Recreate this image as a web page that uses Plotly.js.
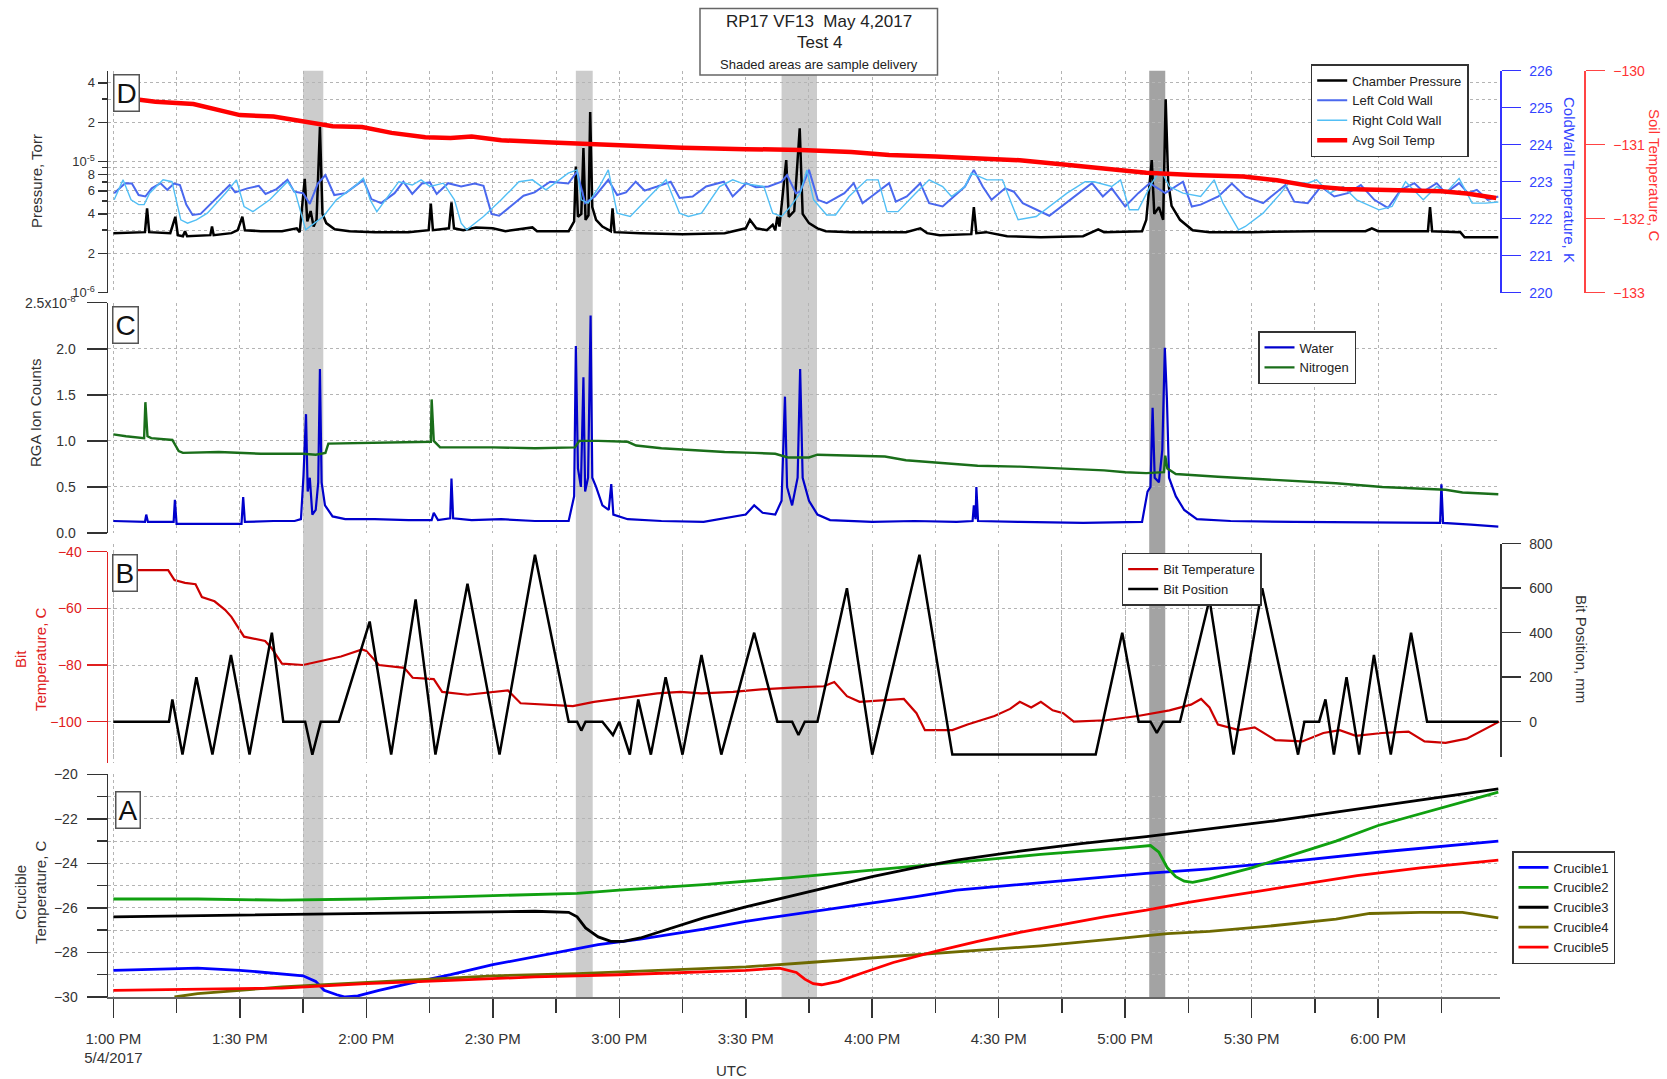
<!DOCTYPE html>
<html><head><meta charset="utf-8">
<script src="https://cdn.plot.ly/plotly-3.0.1.min.js"></script>
<style>html,body{margin:0;padding:0;background:#fff}#chart{width:1667px;height:1079px}</style>
</head><body><div id="chart"></div>
<script>
// ---- times are minutes after 1:00 PM, 5/4/2017 ----
// Panel D: chamber pressure (Torr)
const cpT = [0,7.5,8.0,8.5,13.5,14.7,15.3,16.5,17.0,17.5,23.0,23.4,23.8,28,29.5,30.6,31.2,35,40,43.5,44.2,45.4,46.0,46.8,47.5,48.2,49.0,49.6,50.5,52.5,56,62,70,74.8,75.3,75.8,79.6,80.2,80.8,83,86,90,93,99.4,100.5,108,109.3,109.7,110.2,111.0,111.5,112.0,112.7,113.1,113.6,114.5,116,118.0,118.4,118.9,125,135,145,150,151,152.5,155,156.4,157,157.5,158,159.6,160.2,161.5,162.8,163.5,165,167,169,175,188,191.4,193,196,203.5,204.1,204.7,207,212,220,230,233.6,235,244,245,246.3,246.9,248,249.0,249.6,250.2,251,253,256,260,270,285,297,298.5,300,311.8,312.3,312.8,319.5,320.5,328.5];
const cpV = [2.85e-6,2.9e-6,4.4e-6,2.9e-6,2.85e-6,3.8e-6,2.75e-6,2.7e-6,2.95e-6,2.7e-6,2.75e-6,3.2e-6,2.75e-6,2.85e-6,3.0e-6,3.8e-6,3.0e-6,2.95e-6,2.95e-6,3.1e-6,2.9e-6,7.4e-6,3.5e-6,4.2e-6,3.2e-6,3.6e-6,1.85e-5,4.0e-6,3.4e-6,3.05e-6,2.95e-6,2.9e-6,2.9e-6,3.0e-6,4.8e-6,3.0e-6,3.1e-6,4.9e-6,3.1e-6,3.0e-6,3.15e-6,3.1e-6,2.95e-6,3.15e-6,2.95e-6,2.95e-6,3.5e-6,9.2e-6,3.8e-6,4.0e-6,1.27e-5,3.6e-6,3.9e-6,2.4e-5,4.5e-6,3.6e-6,3.2e-6,2.95e-6,4.4e-6,2.9e-6,2.85e-6,2.8e-6,2.85e-6,3.1e-6,3.6e-6,3.1e-6,3.0e-6,3.3e-6,3.0e-6,3.8e-6,3.2e-6,1.03e-5,3.8e-6,4.2e-6,1.8e-5,4.0e-6,3.4e-6,3.1e-6,2.95e-6,2.9e-6,2.9e-6,3.1e-6,2.85e-6,2.75e-6,2.8e-6,4.5e-6,2.85e-6,2.9e-6,2.7e-6,2.65e-6,2.7e-6,3.05e-6,2.9e-6,2.95e-6,3.6e-6,1.03e-5,4.0e-6,4.5e-6,3.6e-6,3.0e-5,7.0e-6,4.6e-6,3.6e-6,3.0e-6,2.9e-6,2.9e-6,2.95e-6,2.95e-6,3.1e-6,2.95e-6,2.95e-6,4.5e-6,2.95e-6,2.9e-6,2.65e-6,2.65e-6];
// Left / right cold wall (K)
const lcwT = [0.2,2.8,4.4,6.0,7.6,9.1,11.2,12.8,14.4,15.8,17.3,18.8,20.7,27.6,28.9,31.8,34.5,36.1,38.7,41.3,42.9,45.0,46.6,48.5,50.3,52.4,55.1,59.3,61.2,63.5,66.7,68.8,70.9,73.2,75.1,76.7,79.4,82.5,85.7,87.8,89.7,91.5,97.3,99.9,103.6,107.9,110.0,111.9,114.2,117.4,119.5,121.6,123.9,126.0,129.0,132.2,134.3,137.4,140.6,144.8,146.9,150.1,152.4,155.4,158.5,159.8,161.9,162.9,165.0,167.1,169.2,173.4,175.6,177.7,179.8,184.0,185.6,188.2,191.4,193.5,196.7,202.0,204.1,206.2,208.3,211.5,213.6,215.7,222.0,232.1,234.7,236.8,240.0,243.1,245.8,249.5,253.7,255.8,257.9,262.1,265.3,268.5,272.7,278.0,280.1,283.3,286.4,289.6,292.8,295.9,299.1,302.3,305.4,308.6,310.7,313.9,316.0,319.2,321.3,323.4,326.0,328.5];
const lcwV = [222.69,222.96,222.95,222.64,222.60,222.82,222.96,222.78,222.95,222.91,222.38,222.10,222.13,222.91,222.71,222.82,222.89,222.67,222.80,223.05,222.73,222.69,222.40,222.95,223.18,222.64,222.69,223.05,222.53,222.42,222.69,223.00,222.67,222.95,222.98,222.67,222.96,222.87,222.95,222.89,222.13,222.08,222.62,222.71,223.00,222.95,223.27,222.42,222.60,223.05,222.64,222.71,223.00,222.76,222.87,223.00,222.56,222.60,222.87,223.00,222.60,222.96,222.85,222.87,223.00,223.18,222.69,222.73,223.32,222.51,222.42,222.69,222.96,222.42,222.60,222.96,222.46,222.60,222.96,222.42,222.33,222.87,223.32,222.87,222.51,222.82,222.73,222.42,222.08,222.96,222.60,222.82,222.33,222.69,222.96,222.69,223.00,222.33,222.38,222.60,222.95,222.60,222.42,222.91,222.46,222.42,222.87,222.60,222.69,222.91,222.51,222.29,222.78,222.96,222.73,222.96,222.69,222.96,222.69,222.78,222.51,222.60];
const rcwT = [0.2,2.3,4.2,6.0,7.3,8.6,11.8,13.9,16.0,17.6,19.7,22.3,26.6,29.2,31.0,33.1,37.1,41.3,43.2,45.6,47.7,49.8,52.9,57.2,59.3,60.9,62.5,65.6,67.7,70.9,73.0,75.1,78.3,80.9,82.5,83.8,87.8,92.0,96.2,99.4,102.6,107.9,110.0,111.0,112.6,115.3,117.4,119.5,122.6,127.9,131.1,134.3,136.4,139.5,143.8,146.9,149.0,154.3,156.4,158.5,160.6,162.9,164.5,166.1,169.2,171.3,174.5,178.7,181.4,183.5,186.1,190.3,193.5,196.7,198.8,202.0,203.5,207.2,210.9,213.0,214.6,218.9,222.0,226.2,230.5,232.6,236.8,238.9,241.0,243.1,246.3,248.4,250.5,253.7,257.9,261.1,263.2,266.9,268.5,272.7,276.9,279.0,283.3,285.4,288.5,291.7,294.9,300.2,303.3,306.5,310.7,313.9,316.0,319.2,322.3,325.5,328.5];
const rcwV = [222.51,223.05,222.51,222.38,222.38,222.69,223.05,223.00,221.97,221.88,221.97,222.15,222.69,223.05,222.33,222.19,222.51,223.00,222.69,221.70,221.88,222.06,222.51,222.87,223.09,222.51,222.19,222.69,223.00,222.91,223.05,222.87,222.96,222.51,221.88,221.70,222.06,222.51,223.00,223.05,222.78,223.23,223.32,222.51,222.42,222.87,223.32,222.15,222.06,222.69,223.05,222.15,222.06,222.15,222.87,223.05,222.96,222.87,222.15,222.06,222.33,222.69,223.32,222.51,222.10,222.10,222.60,223.05,223.05,222.19,222.19,222.69,223.05,222.87,222.60,222.87,223.23,223.05,223.05,222.42,221.97,222.06,222.33,222.69,223.00,223.00,222.87,223.05,222.24,222.24,222.96,223.32,222.87,222.69,222.60,223.05,222.42,221.70,221.79,222.15,222.69,223.00,222.96,223.05,222.69,222.87,222.51,222.24,222.33,223.00,222.51,222.87,222.69,223.09,222.42,222.42,222.45];
// Avg soil temperature (C)
const soilT = [0,10,19,24,30,38,45,52,59,66,74,80,85,92,104,112,122,135,150,163,175,184,195,205,215,226,236,245,256,268,276,284,292,300,308,315,321,328];
const soilV = [-130.35,-130.42,-130.45,-130.52,-130.6,-130.62,-130.68,-130.75,-130.76,-130.84,-130.9,-130.91,-130.89,-130.94,-130.97,-130.99,-131.01,-131.04,-131.06,-131.07,-131.1,-131.14,-131.16,-131.18,-131.21,-131.27,-131.33,-131.38,-131.41,-131.43,-131.48,-131.56,-131.6,-131.61,-131.62,-131.63,-131.66,-131.72];
// Panel C: RGA ion counts
const waterT = [0,7.5,7.8,8.2,14.3,14.6,15.0,20,25,30.4,30.8,31.2,38,43,44.5,45.1,45.7,46.1,46.6,47.2,48.0,48.6,49.0,49.4,50.2,52,55,62,70,75.5,76,77,79.9,80.2,80.6,85,92,100,108,109.3,109.7,110.2,110.9,111.5,111.9,112.6,113.2,113.6,114.5,116,117.5,118.1,118.6,122,130,140,150,152,154,157,158.5,159.3,159.8,161,162.3,162.9,163.5,165,167,170,180,190,200,203.8,204.1,204.5,204.7,205.1,215,230,244,245.3,246.0,246.5,247.0,248,248.8,249.4,249.9,250.4,252,254,257,265,280,300,314.7,315.0,315.4,322,328.5];
const waterV = [0.13e-8,0.12e-8,0.2e-8,0.12e-8,0.12e-8,0.36e-8,0.1e-8,0.1e-8,0.1e-8,0.1e-8,0.39e-8,0.12e-8,0.13e-8,0.13e-8,0.15e-8,0.62e-8,1.29e-8,0.45e-8,0.6e-8,0.2e-8,0.25e-8,0.55e-8,1.78e-8,0.55e-8,0.3e-8,0.18e-8,0.15e-8,0.15e-8,0.14e-8,0.14e-8,0.22e-8,0.14e-8,0.16e-8,0.59e-8,0.16e-8,0.14e-8,0.15e-8,0.13e-8,0.13e-8,0.4e-8,2.03e-8,0.7e-8,0.5e-8,1.69e-8,0.45e-8,0.6e-8,2.36e-8,0.6e-8,0.5e-8,0.3e-8,0.25e-8,0.53e-8,0.2e-8,0.15e-8,0.13e-8,0.12e-8,0.2e-8,0.3e-8,0.22e-8,0.2e-8,0.35e-8,1.48e-8,0.5e-8,0.3e-8,0.6e-8,1.78e-8,0.6e-8,0.35e-8,0.2e-8,0.14e-8,0.12e-8,0.13e-8,0.12e-8,0.13e-8,0.3e-8,0.15e-8,0.5e-8,0.13e-8,0.12e-8,0.11e-8,0.12e-8,0.45e-8,0.5e-8,1.36e-8,0.6e-8,0.55e-8,0.9e-8,2.01e-8,1.45e-8,0.6e-8,0.4e-8,0.25e-8,0.15e-8,0.13e-8,0.12e-8,0.11e-8,0.11e-8,0.53e-8,0.11e-8,0.09e-8,0.07e-8];
const nitroT = [0,3,7.3,7.6,8.1,9,14,14.7,15.5,16.5,25,35,45,48,50.3,51,60,70,75.3,75.5,76,77.5,90,100,109.5,110.5,115,122,124,130,137,145,152,157,160,165,167,175,183,188,196,205,215,225,235,240,245,249.2,249.5,250.0,252,262,275,290,301,312,316,320,328.5];
const nitroV = [1.07e-8,1.05e-8,1.03e-8,1.42e-8,1.05e-8,1.03e-8,1.01e-8,0.95e-8,0.89e-8,0.87e-8,0.88e-8,0.86e-8,0.86e-8,0.85e-8,0.87e-8,0.97e-8,0.98e-8,0.99e-8,0.99e-8,1.45e-8,1.0e-8,0.93e-8,0.93e-8,0.92e-8,0.93e-8,1.0e-8,1.0e-8,0.99e-8,0.95e-8,0.92e-8,0.9e-8,0.88e-8,0.87e-8,0.86e-8,0.82e-8,0.82e-8,0.85e-8,0.84e-8,0.83e-8,0.79e-8,0.76e-8,0.73e-8,0.72e-8,0.7e-8,0.68e-8,0.66e-8,0.65e-8,0.66e-8,0.84e-8,0.7e-8,0.64e-8,0.61e-8,0.58e-8,0.54e-8,0.5e-8,0.48e-8,0.47e-8,0.44e-8,0.42e-8];
// Panel B: bit temperature (C) and bit position (mm)
const btT = [0,13,14.5,17,19.5,21,24,26.5,28,31,36,37.5,40,45,54,59,60,63,69,71,76,78,84,93.6,96.6,104,109,114,122,129,134.5,139.5,147,154.7,161,168.5,171,174,177,182,187.5,190.5,192.5,199,202.6,209,212.7,215,217.7,220,222.8,225.3,227.8,235.4,243,250.5,255.6,258,260,262,267,270.7,273,275.6,282,287,290.9,294.7,300.9,307.2,311,316,321,325,328.7];
const btV = [-46.5,-46.5,-50,-51,-51.5,-56,-57.5,-60.5,-63,-70,-71.5,-74,-79.5,-80,-77,-74.5,-75,-80,-81,-84.5,-85,-89.5,-90.5,-89,-93.5,-94,-94.5,-93,-91.5,-90,-89.5,-90,-89.5,-88.5,-88,-87.5,-86,-91,-93,-92.5,-92,-97,-103,-103,-101,-98,-95.5,-93,-95,-93,-96,-97,-100,-99.5,-98,-96,-94,-92,-95,-101,-103,-102,-104,-106.5,-107,-104,-103,-105,-104,-103.5,-107,-107.5,-106,-103,-100];
const bpT = [0,13.2,14.0,16.4,19.7,23.5,27.9,32.3,37.6,40.3,45.5,47.2,49.2,53.5,60.8,65.9,71.7,76.4,84.0,91.6,100.0,108.0,110,111,112,116,118.5,120,122.5,124.5,127.5,131.0,135.0,139.5,144.2,152.0,157.5,161,162.5,164,167,174.0,180.0,191.2,199.0,233.0,239.3,243.2,246,247.5,249,253,260.0,265.7,272.5,281.0,282.5,286,287.5,289.5,292.5,295.5,299.0,303,307.8,311.6,328.5];
const bpV = [0,0,100,-148,200,-148,300,-148,400,0,0,-148,0,0,450,-148,550,-148,620,-148,750,0,0,-40,0,0,-60,0,-148,100,-148,200,-148,300,-148,400,0,0,-60,0,0,600,-148,750,-148,-148,400,0,0,-50,0,0,550,-148,600,-148,0,0,100,-148,200,-148,300,-148,400,0,0];
// Panel A: crucible temperatures (C)
const c1T = [0,10,20,30,40,45,48,50,53,55,58,63,70,80,90,100,110,115,125,140,150,165,180,190,200,215,230,245,260,280,300,328.5];
const c1V = [-28.8,-28.75,-28.7,-28.8,-28.95,-29.05,-29.3,-29.7,-29.9,-30.0,-29.95,-29.7,-29.4,-29.0,-28.55,-28.2,-27.85,-27.65,-27.4,-26.95,-26.6,-26.2,-25.8,-25.5,-25.2,-24.95,-24.7,-24.45,-24.25,-23.9,-23.5,-23.0];
const c2T = [0,20,40,60,80,100,110,120,140,160,180,200,220,240,246,248,250,252,254,256,260,270,280,290,300,315,328.5];
const c2V = [-25.6,-25.6,-25.65,-25.6,-25.5,-25.4,-25.35,-25.2,-24.95,-24.65,-24.3,-23.95,-23.6,-23.3,-23.2,-23.5,-24.2,-24.6,-24.8,-24.85,-24.7,-24.2,-23.6,-23.0,-22.3,-21.5,-20.8];
const c3T = [0,20,40,60,80,100,108,110,112,115,118,121,125,130,140,150,160,170,180,190,200,215,230,245,260,275,290,305,328.5];
const c3V = [-26.4,-26.35,-26.3,-26.25,-26.2,-26.15,-26.2,-26.4,-26.9,-27.3,-27.5,-27.5,-27.35,-27.05,-26.45,-25.95,-25.5,-25.05,-24.6,-24.2,-23.85,-23.45,-23.1,-22.8,-22.45,-22.1,-21.7,-21.3,-20.65];
const c4T = [14.5,20,30,40,50,60,75,90,110,130,150,165,180,200,220,240,250,260,275,290,298,310,320,328.5];
const c4V = [-30.0,-29.85,-29.7,-29.55,-29.45,-29.35,-29.2,-29.05,-28.95,-28.8,-28.65,-28.45,-28.25,-28.0,-27.7,-27.35,-27.15,-27.05,-26.8,-26.5,-26.25,-26.2,-26.2,-26.45];
const c5T = [0,20,40,50,60,80,100,120,140,150,158,162,164,166,168,172,178,185,195,205,215,225,235,245,255,265,280,295,310,328.5];
const c5V = [-29.7,-29.65,-29.6,-29.5,-29.4,-29.25,-29.1,-29.0,-28.85,-28.8,-28.7,-28.9,-29.2,-29.4,-29.45,-29.3,-28.9,-28.45,-27.95,-27.5,-27.1,-26.75,-26.4,-26.1,-25.75,-25.45,-25.0,-24.55,-24.2,-23.85];
// Shaded sample-delivery intervals (start, end minutes)
const bandStart = [45.0,109.7,158.5,245.7];
const bandEnd = [49.8,113.7,166.9,249.5];
// Axis ticks
const xTickMin = [0,30,60,90,120,150,180,210,240,270,300];
const xTickText = ['1:00 PM<br>5/4/2017','1:30 PM','2:00 PM','2:30 PM','3:00 PM','3:30 PM','4:00 PM','4:30 PM','5:00 PM','5:30 PM','6:00 PM'];
const xMinorMin = [15,45,75,105,135,165,195,225,255,285,315];
const pTickVals = [1e-6,2e-6,4e-6,6e-6,8e-6,1e-5,2e-5,4e-5];
const pTickText = ['10<sup>-6</sup>','2','4','6','8','10<sup>-5</sup>','2','4'];
const pMinorVals = [3e-6,5e-6,7e-6,9e-6,3e-5,5e-5];
const rgaTickVals = [0,0.5e-8,1e-8,1.5e-8,2e-8,2.5e-8];
const rgaTickText = ['0.0','0.5','1.0','1.5','2.0','2.5x10<sup>-8</sup>'];

const T0 = Date.UTC(2017,4,4,13,0,0);
function tx(arr){ return arr.map(m => new Date(T0 + m*60000).toISOString().slice(0,19).replace('T',' ')); }

const F = 'Liberation Sans, Arial, sans-serif';
const GRID = '#b4b4b4';
function ln(name, t, v, ya, color, width, legend){
  return {type:'scatter', mode:'lines', name:name, x:tx(t), y:v, yaxis:ya, xaxis:'x',
          line:{color:color, width:width}, legend:legend, hoverinfo:'skip'};
}
const traces = [
  ln('Chamber Pressure', cpT, cpV, 'y', '#000000', 2.5, 'legend'),
  ln('Left Cold Wall', lcwT, lcwV, 'y2', '#4a68ee', 2.0, 'legend'),
  ln('Right Cold Wall', rcwT, rcwV, 'y2', '#52bff5', 1.4, 'legend'),
  ln('Avg Soil Temp', soilT, soilV, 'y3', '#ff0000', 4.5, 'legend'),
  ln('Water', waterT, waterV, 'y4', '#0000cc', 2.2, 'legend2'),
  ln('Nitrogen', nitroT, nitroV, 'y4', '#1a6e1a', 2.4, 'legend2'),
  ln('Bit Temperature', btT, btV, 'y5', '#cc0000', 2.2, 'legend3'),
  ln('Bit Position', bpT, bpV, 'y6', '#000000', 2.5, 'legend3'),
  ln('Crucible1', c1T, c1V, 'y7', '#0000ff', 2.8, 'legend4'),
  ln('Crucible2', c2T, c2V, 'y7', '#10a010', 2.8, 'legend4'),
  ln('Crucible3', c3T, c3V, 'y7', '#000000', 2.8, 'legend4'),
  ln('Crucible4', c4T, c4V, 'y7', '#6e6a00', 2.8, 'legend4'),
  ln('Crucible5', c5T, c5V, 'y7', '#ff0000', 2.8, 'legend4')
];

const W = 1667, H = 1079;
const px = x => x / W, py = y => 1 - y / H;
const shapes = [];
bandStart.forEach((s, i) => {
  shapes.push({type:'rect', xref:'x', yref:'paper', x0:tx([s])[0], x1:tx([bandEnd[i]])[0],
    y0:py(997), y1:py(70.7), fillcolor: i === 3 ? '#a3a3a3' : '#cccccc', line:{width:0}, layer:'below'});
});
shapes.push({type:'rect', xref:'paper', yref:'paper', x0:px(700), x1:px(937.5), y0:py(75), y1:py(8.5),
  fillcolor:'#ffffff', line:{color:'#666', width:1.5}, layer:'above'});

function ann(text, x, y, opts){ return Object.assign({text:text, x:px(x), y:py(y), xref:'paper', yref:'paper', showarrow:false,
  xanchor:'center', yanchor:'middle', font:{family:F, size:15, color:'#333'}}, opts || {}); }
function box(letter, x, y){ return ann(letter, x, y, {font:{family:F, size:28, color:'#111'}, bordercolor:'#555', borderwidth:1.5, borderpad:2, bgcolor:'#fff'}); }
const annotations = [
  ann('RP17 VF13\u00a0 May 4,2017', 819, 21, {font:{family:F, size:17, color:'#222'}}),
  ann('Test 4', 819, 42, {font:{family:F, size:17, color:'#222'}}),
  ann('Shaded areas are sample delivery', 819, 65, {font:{family:F, size:13, color:'#222'}}),
  box('D', 126, 92.6), box('C', 125.5, 325), box('B', 124.5, 572.7), box('A', 128, 810),
  ann('Pressure, Torr', 37, 181, {textangle:-90}),
  ann('RGA Ion Counts', 35, 413, {textangle:-90}),
  ann('Bit<br>Temperature, C', 30, 659, {textangle:-90, font:{family:F, size:15, color:'#e02020'}}),
  ann('Crucible<br>Temperature, C', 30, 892, {textangle:-90}),
  ann('ColdWall Temperature, K', 1570, 180, {textangle:90, font:{family:F, size:15, color:'#3344ff'}}),
  ann('Soil Temperature, C', 1655, 175, {textangle:90, font:{family:F, size:15, color:'#ff3333'}}),
  ann('Bit Position, mm', 1582, 649, {textangle:90}),
  ann('UTC', 731, 1070)
];

const tickF = {family:F, size:14, color:'#333'};
const leg = (x, y) => ({x:px(x), y:py(y), xanchor:'left', yanchor:'top', bgcolor:'#fff', bordercolor:'#333', borderwidth:1.5,
  font:{family:F, size:13, color:'#222'}, itemwidth:30, tracegroupgap:0});
const layout = {
  width:W, height:H, margin:{l:0, r:0, t:0, b:0}, paper_bgcolor:'#fff', plot_bgcolor:'rgba(0,0,0,0)',
  font:{family:F, size:14, color:'#333'}, showlegend:true, hovermode:false,
  legend: leg(1310.7, 64), legend2: leg(1258, 331), legend3: leg(1121.7, 552.7), legend4: leg(1512, 851),
  xaxis:{type:'date', domain:[px(108), px(1500)], range:tx([-1.26, 328.9]), anchor:'y7',
    tickmode:'array', tickvals:tx(xTickMin), ticktext:xTickText, ticks:'outside', ticklen:19, tickwidth:1.5, tickcolor:'#333',
    showline:true, linecolor:'#666', linewidth:1.5, showgrid:true, gridcolor:GRID, griddash:'dot', gridwidth:1,
    minor:{tickmode:'array', tickvals:tx(xMinorMin), ticks:'outside', ticklen:14, tickcolor:'#333', showgrid:true, gridcolor:GRID, griddash:'dot'},
    tickfont:{family:F, size:15, color:'#333'}, ticklabelstandoff:8, zeroline:false},
  yaxis:{domain:[py(292.7), py(70.7)], type:'log', range:[-6, -4.305], anchor:'x',
    tickmode:'array', tickvals:pTickVals, ticktext:pTickText, ticks:'outside', ticklen:9, tickcolor:'#333', tickwidth:1.5,
    showline:true, linecolor:'#333', linewidth:1.5, showgrid:true, gridcolor:GRID, griddash:'dot',
    minor:{tickmode:'array', tickvals:pMinorVals, ticks:'outside', ticklen:5, tickcolor:'#333', showgrid:true, gridcolor:GRID, griddash:'dot'},
    tickfont:{family:F, size:13, color:'#333'}, zeroline:false},
  yaxis2:{overlaying:'y', side:'right', anchor:'free', position:px(1500), range:[220, 226], tickmode:'linear', tick0:220, dtick:1,
    ticks:'outside', ticklen:19, tickcolor:'#3333ff', tickwidth:1.5, showline:true, linecolor:'#3333ff', linewidth:1.5,
    showgrid:false, zeroline:false, tickfont:{family:F, size:14, color:'#3344ff'}, ticklabelstandoff:6},
  yaxis3:{overlaying:'y', side:'right', anchor:'free', position:px(1584), range:[-133, -130], tickmode:'linear', tick0:-133, dtick:1,
    ticks:'outside', ticklen:19, tickcolor:'#ff4444', tickwidth:1.5, showline:true, linecolor:'#ff4444', linewidth:1.5,
    showgrid:false, zeroline:false, tickfont:{family:F, size:14, color:'#ff3333'}, ticklabelstandoff:6},
  yaxis4:{domain:[py(533), py(302.7)], range:[0, 2.5e-8], anchor:'x', tickmode:'array', tickvals:rgaTickVals, ticktext:rgaTickText,
    ticks:'outside', ticklen:20, tickcolor:'#333', tickwidth:1.5, showline:true, linecolor:'#333', linewidth:1.5,
    showgrid:true, gridcolor:GRID, griddash:'dot', zeroline:false, tickfont:tickF, ticklabelstandoff:8},
  yaxis5:{domain:[py(763), py(551.7)], range:[-114.6, -40], anchor:'x', tickmode:'array', tickvals:[-100,-80,-60,-40],
    ticks:'outside', ticklen:20, tickcolor:'#e02020', tickwidth:1.5, showline:true, linecolor:'#e02020', linewidth:1.5,
    showgrid:true, gridcolor:GRID, griddash:'dot', zeroline:false, tickfont:{family:F, size:14, color:'#e02020'}, ticklabelstandoff:2},
  yaxis6:{domain:[py(757), py(543.7)], range:[-158.7, 800], anchor:'x', side:'right', tickmode:'array', tickvals:[0,200,400,600,800],
    ticks:'outside', ticklen:19, tickcolor:'#333', tickwidth:1.5, showline:true, linecolor:'#333', linewidth:1.5,
    showgrid:false, zeroline:false, tickfont:tickF, ticklabelstandoff:6},
  yaxis7:{domain:[py(997), py(774.3)], range:[-30, -20], anchor:'x', tickmode:'array', tickvals:[-30,-28,-26,-24,-22,-20],
    ticks:'outside', ticklen:20, tickcolor:'#333', tickwidth:1.5, showline:true, linecolor:'#333', linewidth:1.5,
    showgrid:true, gridcolor:GRID, griddash:'dot', zeroline:false, tickfont:tickF, ticklabelstandoff:6,
    minor:{tickmode:'array', tickvals:[-29,-27,-25,-23,-21], ticks:'outside', ticklen:10, tickcolor:'#333', showgrid:true, gridcolor:GRID, griddash:'dot'}},
  shapes: shapes, annotations: annotations
};
Plotly.newPlot('chart', traces, layout, {displayModeBar:false, staticPlot:true});
</script></body></html>
